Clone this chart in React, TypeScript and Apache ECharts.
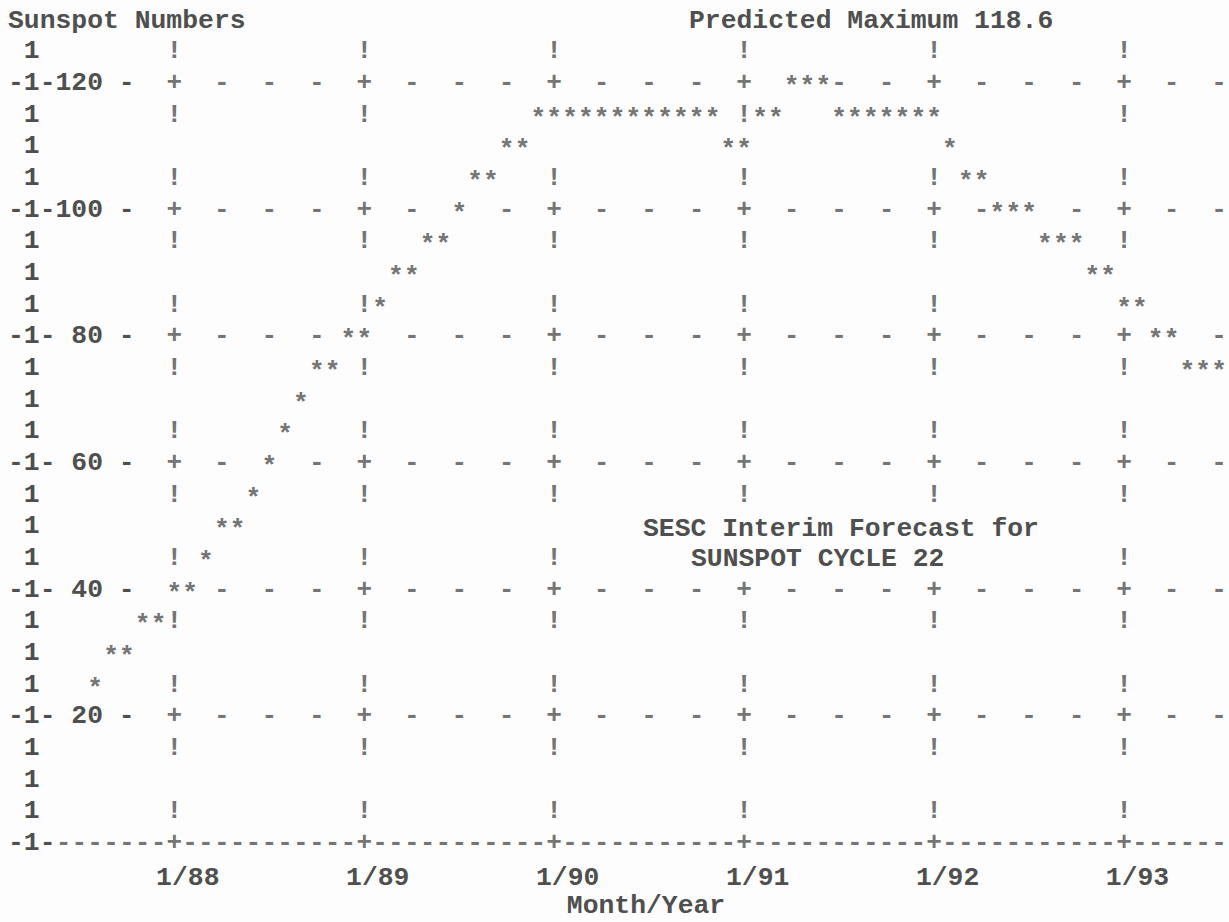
import React, { useEffect, useRef } from "react";
import * as echarts from "echarts";

// months counted from January 1988 (0 = 1/88)
const FIRST_MONTH = -5;
const SUNSPOTS = [
  25, 30, 30, 35, 35, 40, 40, 45, 50, 50, 55, 60, 65, 70, 75, 75, 80, 80, 85, 90, 90, 95, 95, 100,
  105, 105, 110, 110,
  115, 115, 115, 115, 115, 115, 115, 115, 115, 115, 115, 115,
  110, 110, 115, 115, 120, 120, 120,
  115, 115, 115, 115, 115, 115, 115,
  110, 105, 105, 100, 100, 100, 95, 95, 95, 90, 90, 85, 85, 80, 80, 75, 75, 75,
];
const YEAR_MONTHS = [0, 12, 24, 36, 48, 60];
const YEAR_LABELS = ["1/88", "1/89", "1/90", "1/91", "1/92", "1/93"];
const Y_ROWS = [0, 5, 10, 15, 20, 25, 30, 35, 40, 45, 50, 55, 60, 65, 70, 75, 80, 85, 90, 95, 100, 105, 110, 115, 120, 125];
const Y_MAJOR = [0, 20, 40, 60, 80, 100, 120];
// grid cells covered by the "SUNSPOT CYCLE 22" caption (row 45, months 33..48)
const CAPTION_ROW = 45;
const CAPTION_FROM = 33;
const CAPTION_TO = 48;

const FONT = "'Liberation Mono', 'Courier New', monospace";
const FS = 26.4;
const MARK_FS = 26.1;
const INK = "#4f4f4f";
const WEIGHT = "bold";

export default function App() {
  const ref = useRef<HTMLDivElement>(null);
  useEffect(() => {
    document.body.style.margin = "0";
    const chart = echarts.init(ref.current!, null, { renderer: "svg" });

    const stars = SUNSPOTS.map((v, i) => [FIRST_MONTH + i, v]);
    const taken = new Set(stars.map((p) => `${p[0]}|${p[1]}`));
    const marks: any[] = [];
    const add = (m: number, r: number, ch: string) => {
      if (taken.has(`${m}|${r}`)) return;
      if (r === CAPTION_ROW && m >= CAPTION_FROM && m <= CAPTION_TO) return;
      marks.push([m, r, ch]);
    };
    Y_ROWS.forEach((r) => {
      if (r === 0) {
        for (let m = -7; m <= 66; m++) add(m, r, YEAR_MONTHS.includes(m) ? "+" : "-");
      } else if (r % 20 === 0) {
        for (let m = 0; m <= 66; m += 3) add(m, r, YEAR_MONTHS.includes(m) ? "+" : "-");
      } else if (r % 10 === 5) {
        YEAR_MONTHS.forEach((m) => add(m, r, "!"));
      }
    });

    const NB = "\u00A0";
    const yLabel = (v: number) => {
      if (v === 0) return "-1-";
      if (Y_MAJOR.includes(v)) return "-1-" + String(v).padStart(3, NB) + NB + "-";
      return NB + "1";
    };

    const textStyle = { fontFamily: FONT, fontSize: FS, color: INK, fontWeight: WEIGHT };
    const markStyle = { ...textStyle, fontSize: MARK_FS, lineHeight: 20 };
    const gfont = `${WEIGHT} ${FS}px ${FONT}`;

    chart.setOption({
      animation: false,
      backgroundColor: "#fdfdfd",
      grid: { left: 16, right: 10, top: 51.3, bottom: 79, containLabel: false, outerBoundsMode: "none" },
      xAxis: {
        type: "value",
        min: -10,
        max: 66,
        axisLine: { show: false },
        axisTick: { show: false },
        splitLine: { show: false },
        axisLabel: {
          customValues: YEAR_MONTHS,
          formatter: (v: number) => YEAR_LABELS[YEAR_MONTHS.indexOf(v)] ?? "",
          margin: 22,
          padding: [0, 0, 0, 27],
          ...textStyle,
        },
        name: "Month/Year",
        nameLocation: "middle",
        nameGap: 52,
        nameMoveOverlap: false,
        nameTextStyle: { ...textStyle, lineHeight: 21, padding: [0, 0, 0, 57] },
      },
      yAxis: {
        type: "value",
        min: 0,
        max: 125,
        axisLine: { show: false },
        axisTick: { show: false },
        splitLine: { show: false },
        axisLabel: {
          customValues: Y_ROWS,
          formatter: yLabel,
          align: "left",
          margin: 8,
          ...textStyle,
        },
      },
      graphic: [
        { type: "text", x: 8, y: 21, style: { text: "Sunspot Numbers", font: gfont, fill: INK, verticalAlign: "middle" } },
        { type: "text", x: 689, y: 21, style: { text: "Predicted Maximum 118.6", font: gfont, fill: INK, verticalAlign: "middle" } },
        { type: "text", x: 643, y: 529, style: { text: "SESC Interim Forecast for", font: gfont, fill: INK, verticalAlign: "middle" } },
        { type: "text", x: 691, y: 559, style: { text: "SUNSPOT CYCLE 22", font: gfont, fill: INK, verticalAlign: "middle" } },
      ],
      series: [
        {
          type: "scatter",
          silent: true,
          clip: false,
          data: marks,
          symbolSize: 1,
          itemStyle: { color: "rgba(0,0,0,0)" },
          label: { show: true, position: "inside", formatter: (p: any) => p.value[2], ...markStyle },
        },
        {
          type: "scatter",
          name: "Sunspot Numbers",
          silent: true,
          clip: false,
          data: stars,
          symbolSize: 1,
          itemStyle: { color: "rgba(0,0,0,0)" },
          label: { show: true, position: "inside", formatter: "*", offset: [0, 4], ...markStyle },
        },
      ],
    });
    return () => chart.dispose();
  }, []);
  return <div ref={ref} style={{ width: 1229, height: 922 }} />;
}
